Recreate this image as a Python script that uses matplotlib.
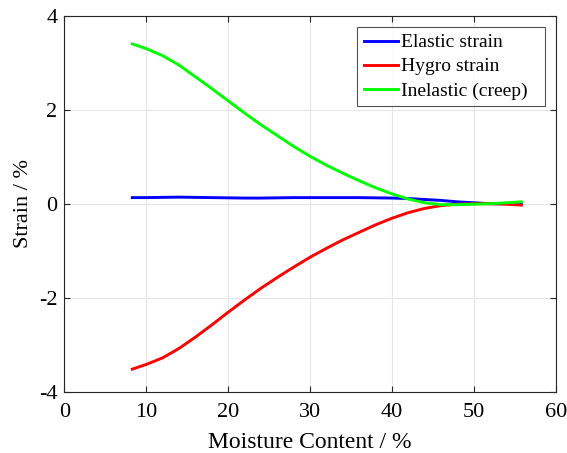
import numpy as np
import matplotlib
matplotlib.use('Agg')
import matplotlib.pyplot as plt

plt.rcParams['font.family'] = ['Liberation Serif', 'DejaVu Serif']
plt.rcParams['axes.unicode_minus'] = False

# moisture content (%)
mc = [8.3, 10, 12, 14, 16, 18, 20, 22, 24, 26, 28, 30, 32, 34, 36, 38, 40,
      42, 44, 46, 48, 50, 52, 54, 55.8]

elastic = [0.13, 0.13, 0.135, 0.14, 0.135, 0.13, 0.125, 0.12, 0.12, 0.125,
           0.13, 0.13, 0.13, 0.13, 0.13, 0.125, 0.12, 0.11, 0.09, 0.07,
           0.04, 0.02, 0.0, 0.0, 0.0]
hygro = [-3.52, -3.42, -3.28, -3.08, -2.84, -2.58, -2.31, -2.05, -1.80,
         -1.57, -1.35, -1.14, -0.95, -0.77, -0.61, -0.45, -0.31, -0.19,
         -0.10, -0.04, -0.01, 0.0, 0.0, -0.01, -0.03]
inelastic = [3.40, 3.30, 3.15, 2.95, 2.70, 2.45, 2.19, 1.93, 1.68, 1.45,
             1.22, 1.01, 0.82, 0.65, 0.49, 0.34, 0.21, 0.10, 0.02, -0.02,
             -0.02, -0.01, 0.0, 0.02, 0.04]

fig = plt.figure(figsize=(5.67, 4.53), dpi=100)
ax = fig.add_axes([0.1134, 0.1353, 0.8666, 0.83])

ax.plot(mc, elastic, color='#0000ff', lw=2.1, label='Elastic strain')
ax.plot(mc, hygro, color='#ff0000', lw=2.1, label='Hygro strain')
ax.plot(mc, inelastic, color='#00ff00', lw=2.1, label='Inelastic (creep)')

ax.set_xlim(0, 60)
ax.set_ylim(-4, 4)
ax.set_xticks(np.arange(0, 61, 10))
ax.set_yticks(np.arange(-4, 5, 2))
ax.grid(True, color='#e6e6e6', lw=0.8)
ax.set_axisbelow(True)
ax.tick_params(direction='in', top=True, right=True, labelsize=16,
               length=4, width=0.8, color='#262626')
ax.tick_params(axis='x', pad=8)
ax.tick_params(axis='y', pad=5)
for s in ax.spines.values():
    s.set_color('#262626')
    s.set_linewidth(0.8)

ax.set_xlabel('Moisture Content / %', fontsize=17, labelpad=7)
ax.set_ylabel('Strain / %', fontsize=16, labelpad=4)

# legend box stretched to the width seen in the original
leg = ax.legend(loc='upper right', bbox_to_anchor=(0.596, 0.5, 0.382, 0.97 - 0.5),
                mode='expand', fontsize=14, frameon=True, fancybox=False,
                edgecolor='#262626', handlelength=1.75, handletextpad=0.15,
                borderpad=0.35, labelspacing=0.33, borderaxespad=0)
leg.get_frame().set_linewidth(0.8)

fig.savefig('out.png', dpi=100)
